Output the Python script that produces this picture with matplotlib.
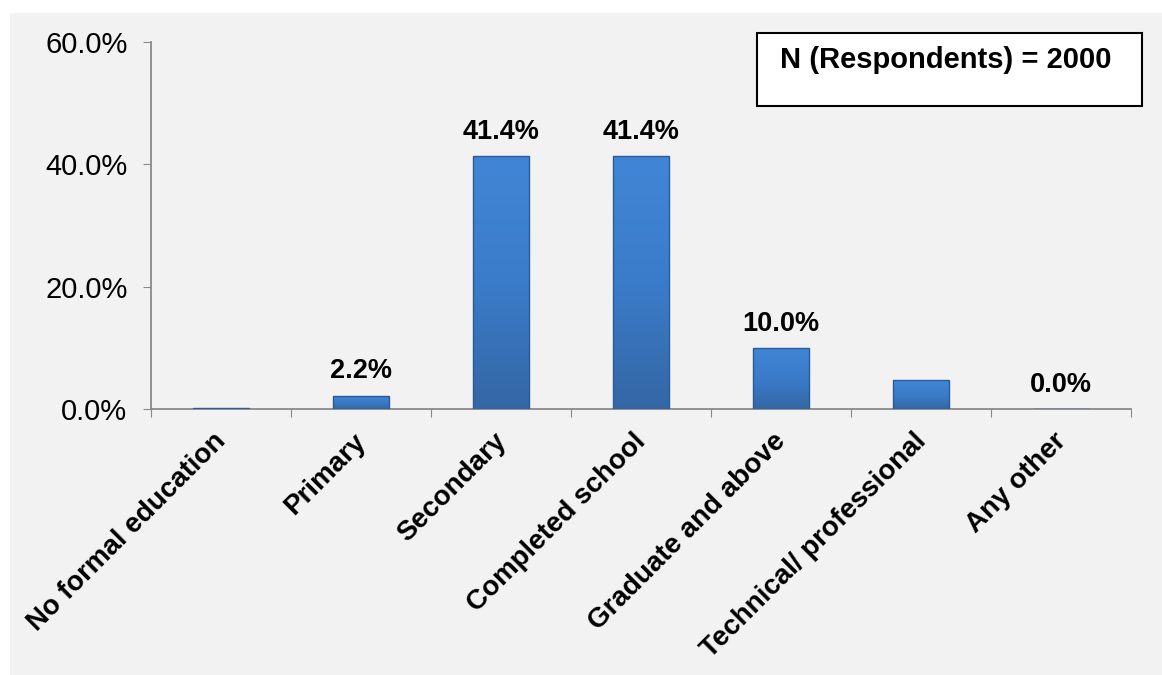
import numpy as np
import matplotlib.pyplot as plt
import matplotlib.transforms as mtransforms
from matplotlib.patches import Rectangle
from matplotlib.colors import LinearSegmentedColormap

# Education level of respondents
categories = ['No formal education', 'Primary', 'Secondary', 'Completed school',
              'Graduate and above', 'Technical/ professional', 'Any other']
values = [0.2, 2.2, 41.4, 41.4, 10.0, 4.7, 0.0]
# value labels as printed on the chart (None = not shown)
value_labels = [None, '2.2%', '41.4%', '41.4%', '10.0%', None, '0.0%']
yticks = [0, 20, 40, 60]
note = 'N (Respondents) = 2000'

plt.rcParams['font.family'] = ['Liberation Sans', 'DejaVu Sans']

fig = plt.figure(figsize=(11.62, 6.75), dpi=100)
fig.patch.set_facecolor('white')
# grey chart area
fig.patches.append(Rectangle((10 / 1162, 0), 1 - 10 / 1162, 1 - 13 / 675,
                             transform=fig.transFigure, facecolor='#f2f2f2',
                             edgecolor='none', zorder=-10))

ax = fig.add_axes([151 / 1162, (675 - 409) / 675, 980 / 1162, 367 / 675])
ax.set_facecolor('none')

x = np.arange(len(categories))
bars = ax.bar(x, values, width=0.4, color='none', edgecolor='#2a5b98',
              linewidth=1.0, zorder=4)

# shaded fill inside each bar
cmap = LinearSegmentedColormap.from_list('barfill', ['#3467a5', '#3b7cca', '#4186d6'])
grad = np.linspace(0, 1, 256).reshape(-1, 1)
for b in bars:
    if b.get_height() <= 0:
        continue
    im = ax.imshow(grad, extent=[b.get_x(), b.get_x() + b.get_width(), 0, b.get_height()],
                   origin='lower', aspect='auto', cmap=cmap, zorder=3)
    im.set_clip_path(b)

for xi, v, lab in zip(x, values, value_labels):
    if lab is None:
        continue
    ax.annotate(lab, (xi, v), xytext=(0, 8), textcoords='offset points',
                ha='center', va='bottom', fontsize=19.5, fontweight='bold')

ax.set_xlim(-0.5, len(categories) - 0.5)
ax.set_ylim(0, 60)
ax.set_yticks(yticks)
ax.set_yticklabels([f'{t:.1f}%' for t in yticks], fontsize=21)

# ticks between categories, labels at centres
ax.set_xticks(np.arange(-0.5, len(categories)), labels=[''] * (len(categories) + 1))
ax.set_xticks(x, minor=True)
ax.set_xticklabels(categories, minor=True, rotation=45, ha='right', va='top',
                   rotation_mode='anchor', fontsize=20, fontweight='bold')
ax.tick_params(axis='x', which='minor', length=0, pad=14)
ax.tick_params(axis='x', which='major', length=6, color='#898989', direction='out')
ax.tick_params(axis='y', length=6, color='#898989', pad=11)

offset = mtransforms.ScaledTranslation(-0.08, 0, fig.dpi_scale_trans)
for lbl in ax.get_xticklabels(minor=True):
    lbl.set_transform(lbl.get_transform() + offset)

for side in ['top', 'right']:
    ax.spines[side].set_visible(False)
for side in ['left', 'bottom']:
    ax.spines[side].set_color('#898989')
    ax.spines[side].set_linewidth(1.3)

# respondents box
fig.patches.append(Rectangle((757 / 1162, 1 - 106 / 675), 385 / 1162, 73 / 675,
                             transform=fig.transFigure, facecolor='white',
                             edgecolor='black', linewidth=1.5, zorder=5))
fig.text(780 / 1162, 1 - 60 / 675, note, fontsize=21, fontweight='bold',
         ha='left', va='center', zorder=6)

fig.savefig('out.png', dpi=100)
